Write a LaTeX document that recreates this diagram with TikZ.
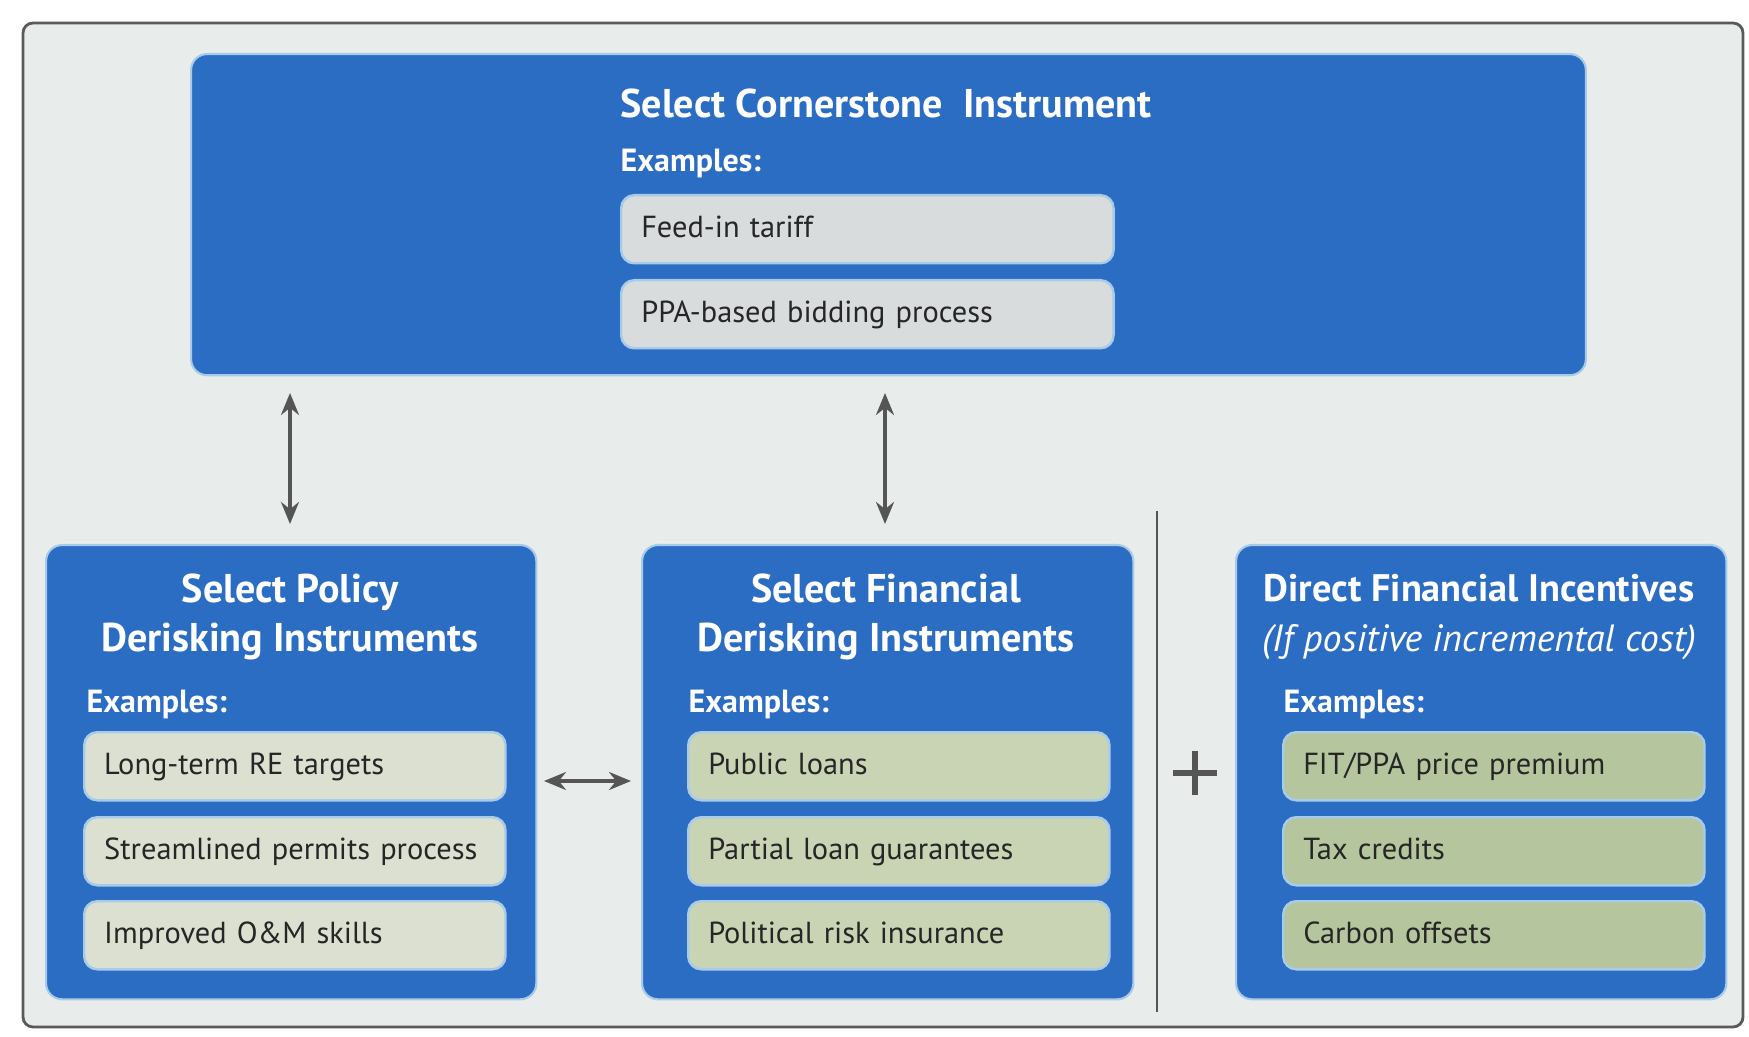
\documentclass[tikz,border=0pt]{standalone}
\usepackage{fontspec}
\setmainfont{PT Sans}
\usetikzlibrary{arrows.meta}
\hyphenpenalty=10000
\definecolor{bgfill}{HTML}{E8ECEB}
\definecolor{frameline}{HTML}{5A5A5A}
\definecolor{boxblue}{HTML}{2C6DC4}
\definecolor{boxedge}{HTML}{A9CBEA}
\definecolor{itemgray}{HTML}{D9DCDC}
\definecolor{itembeige}{HTML}{DCE0D0}
\definecolor{itemsage}{HTML}{C9D4B5}
\definecolor{itemgreen}{HTML}{B5C59E}
\definecolor{arrowgray}{HTML}{555555}
\tikzset{
  bluebox/.style={draw=boxedge, fill=boxblue, line width=0.6pt, rounded corners=0.16cm, anchor=north west, inner sep=0pt},
  itembox/.style={draw=boxedge, line width=0.7pt, rounded corners=0.13cm, anchor=north west, inner xsep=0.2cm, inner ysep=0pt,
    text width=3.81cm, align=left, minimum height=0.68cm, text height=0.22cm, text depth=0.05cm,
    font=\fontsize{8.65}{9}\selectfont, text=black!85},
  wideitem/.style={itembox, text width=4.52cm},
  titletext/.style={text=white, font=\fontsize{11.4}{14}\bfseries\selectfont, align=center, inner sep=0pt},
  examplestext/.style={text=white, font=\fontsize{9.1}{10}\bfseries\selectfont, anchor=west, inner sep=0pt},
  dblarrow/.style={draw=arrowgray, line width=0.9pt, {Stealth[length=0.22cm,width=0.18cm]}-{Stealth[length=0.22cm,width=0.18cm]}},
}
\begin{document}
\begin{tikzpicture}[x=0.01cm, y=-0.01cm]
\useasboundingbox (0,0) rectangle (1749,1037);
\fill[white] (0,0) rectangle (1749,1037);
% outer frame
\draw[frameline, fill=bgfill, line width=0.8pt, rounded corners=0.1cm] (23,23) rectangle (1743,1027);

% top box
\node[bluebox, minimum width=13.94cm, minimum height=3.21cm] (top) at (190,53) {};
\node[titletext] (toptitle) at (886,103) {Select Cornerstone\ \ Instrument};
\node[examplestext] (topex) at (620,164) {Examples:};
\node[wideitem, fill=itemgray] (fit) at (620,194) {Feed-in tariff};
\node[wideitem, fill=itemgray] (ppa) at (620,279) {PPA-based bidding process};

% bottom boxes
\node[bluebox, minimum width=4.90cm, minimum height=4.54cm] (policy) at (45,544) {};
\node[bluebox, minimum width=4.91cm, minimum height=4.54cm] (fin) at (641,544) {};
\node[bluebox, minimum width=4.90cm, minimum height=4.54cm] (direct) at (1235,544) {};

% policy box
\node[titletext] (poltitle) at (290,617) {Select Policy\\Derisking Instruments};
\node[examplestext] (polex) at (86,704) {Examples:};
\node[itembox, fill=itembeige] (p1) at (83,731) {Long-term RE targets};
\node[itembox, fill=itembeige] (p2) at (83,816) {Streamlined permits process};
\node[itembox, fill=itembeige] (p3) at (83,900) {Improved O\&M skills};

% financial box
\node[titletext] (fintitle) at (886,617) {Select Financial\\Derisking Instruments};
\node[examplestext] (finex) at (688,704) {Examples:};
\node[itembox, fill=itemsage] (f1) at (687,731) {Public loans};
\node[itembox, fill=itemsage] (f2) at (687,816) {Partial loan guarantees};
\node[itembox, fill=itemsage] (f3) at (687,900) {Political risk insurance};

% direct box
\node[titletext, font=\fontsize{10.9}{14}\bfseries\selectfont] (dirtitle) at (1479,617) {Direct Financial Incentives\\{\mdseries\itshape\fontsize{10.8}{14}\selectfont (If positive incremental cost)}};
\node[examplestext] (direx) at (1283,704) {Examples:};
\node[itembox, fill=itemgreen] (d1) at (1282,731) {FIT/PPA price premium};
\node[itembox, fill=itemgreen] (d2) at (1282,816) {Tax credits};
\node[itembox, fill=itemgreen] (d3) at (1282,900) {Carbon offsets};

% connectors
\coordinate (a1t) at (290,393);
\coordinate (a1b) at (290,524);
\coordinate (a2t) at (885,393);
\coordinate (a2b) at (885,524);
\coordinate (hl) at (544,781);
\coordinate (hr) at (631,781);
\draw[dblarrow] (a1t) -- (a1b);
\draw[dblarrow] (a2t) -- (a2b);
\draw[dblarrow] (hl) -- (hr);

% separator and plus
\coordinate (sept) at (1157,511);
\coordinate (sepb) at (1157,1012);
\draw[arrowgray, line width=0.7pt] (sept) -- (sepb);
\coordinate (plusc) at (1195,773);
\draw[arrowgray, line width=1.5pt] ([xshift=-0.22cm]plusc) -- ([xshift=0.22cm]plusc);
\draw[arrowgray, line width=1.5pt] ([yshift=-0.22cm]plusc) -- ([yshift=0.22cm]plusc);
\end{tikzpicture}
\end{document}
